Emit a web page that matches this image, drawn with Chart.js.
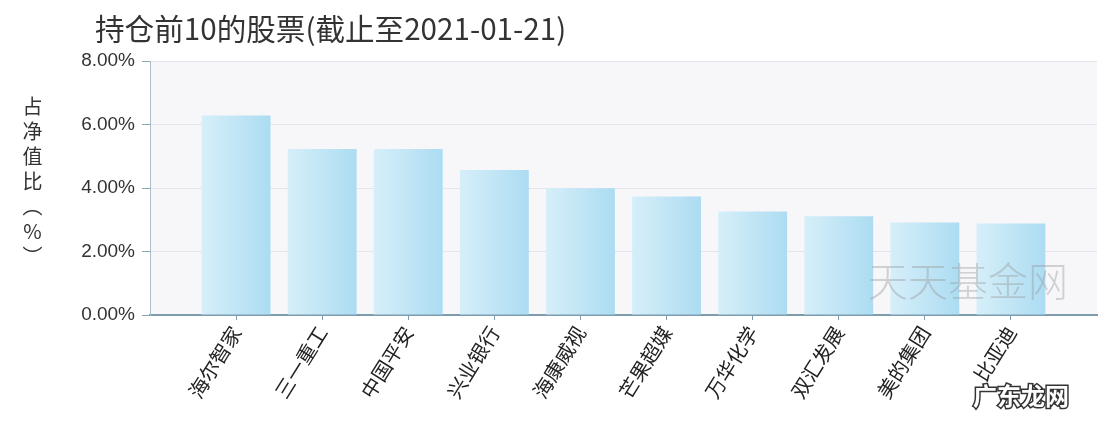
<!DOCTYPE html>
<html>
<head>
<meta charset="utf-8">
<script src="https://cdn.jsdelivr.net/npm/chart.js@4.4.1/dist/chart.umd.min.js"></script>
<style>
  body { margin: 0; background: #fff; }
  #wrap { position: relative; width: 1108px; height: 424px; }
  #title { position: absolute; left: 95px; top: 6px; margin: 0; font: 29.6px "Noto Sans CJK SC", sans-serif; color: #333; font-weight: normal; white-space: nowrap; }
  #ytitle { position: absolute; left: 18px; top: 96px; writing-mode: vertical-rl; font: 20px "Noto Sans CJK SC", sans-serif; letter-spacing: 5px; color: #333; }
  #ytitle span { text-orientation: upright; }
  canvas { position: absolute; left: 0; top: 0; }
</style>
</head>
<body>
<div id="wrap">
  <canvas id="chartContainer" width="1108" height="424"></canvas>
  <h1 id="title">持仓前10的股票(截止至2021-01-21)</h1>
  <div id="ytitle">占净值比（<span>%</span>）</div>
</div>
<script>
// top 10 holdings, % of net value
const categories = ['海尔智家', '三一重工', '中国平安', '兴业银行', '海康威视', '芒果超媒', '万华化学', '双汇发展', '美的集团', '比亚迪'];
const weights = [6.28, 5.23, 5.23, 4.57, 3.99, 3.73, 3.26, 3.11, 2.91, 2.88];
const yTicks = [0, 2, 4, 6, 8];

// gradient per bar, left light -> right a bit darker
function barGradient(ctx) {
    const chart = ctx.chart;
    const xs = chart.scales.x;
    if (!xs || ctx.type !== 'data') return '#c4e6f6';
    const cx = xs.getPixelForValue(ctx.dataIndex);
    const half = (xs.getPixelForValue(1) - xs.getPixelForValue(0)) * 0.4;
    if (!isFinite(cx) || !isFinite(half)) return '#c4e6f6';
    const g = chart.ctx.createLinearGradient(cx - half, 0, cx + half, 0);
    g.addColorStop(0, '#d6eff9');
    g.addColorStop(1, '#acdcf2');
    return g;
}

const plotBg = {
    id: 'plotBg',
    beforeDraw(chart) {
        const { ctx, chartArea: a } = chart;
        ctx.save();
        ctx.fillStyle = '#f7f7fa';
        ctx.fillRect(a.left, a.top, a.right - a.left, a.bottom - a.top);
        ctx.restore();
    },
    afterDatasetsDraw(chart) {
        const ctx = chart.ctx;
        ctx.save();
        ctx.font = '300 40px "Noto Sans CJK SC"';
        ctx.fillStyle = 'rgba(150,150,150,0.4)';
        ctx.textBaseline = 'middle';
        ctx.fillText('天天基金网', 868, 281);
        ctx.restore();
    },
    afterDraw(chart) {
        const ctx = chart.ctx;
        ctx.save();
        ctx.font = 'bold 24px "Noto Sans CJK SC"';
        ctx.textBaseline = 'middle';
        ctx.lineWidth = 3;
        ctx.strokeStyle = '#333';
        ctx.strokeText('广东龙网', 973, 396);
        ctx.fillStyle = '#fff';
        ctx.fillText('广东龙网', 973, 396);
        ctx.restore();
    }
};

const chart = new Chart(document.getElementById('chartContainer'), {
    type: 'bar',
    data: {
        datasets: [{
            data: weights.map((v, i) => ({ x: i, y: v })),
            backgroundColor: barGradient,
            borderWidth: 0,
            barPercentage: 0.8,
            categoryPercentage: 1
        }]
    },
    options: {
        responsive: false,
        animation: false,
        layout: { padding: { top: 61, right: 11, left: 0, bottom: 0 } },
        plugins: { legend: { display: false }, tooltip: { enabled: false } },
        scales: {
            x: {
                type: 'linear',
                offset: false,
                min: -1,
                max: 10,
                afterBuildTicks: (axis) => { axis.ticks = categories.map((c, i) => ({ value: i })); },
                afterFit: (s) => { s.height = 109; },
                ticks: {
                    autoSkip: false,
                    maxRotation: 58,
                    minRotation: 58,
                    padding: 2,
                    color: '#222',
                    font: { family: '"Noto Sans CJK SC"', size: 20 },
                    callback: (v) => categories[v] ?? ''
                },
                grid: { offset: false, drawOnChartArea: false, tickLength: 5, tickColor: '#7f9cab' },
                border: { color: '#7d9dad', width: 2 }
            },
            y: {
                min: 0,
                max: 8,
                afterBuildTicks: (axis) => { axis.ticks = yTicks.map(v => ({ value: v })); },
                afterFit: (s) => { s.width = 150; },
                ticks: {
                    padding: 7,
                    color: '#333',
                    font: { family: '"Liberation Sans", Arial', size: 19 },
                    callback: (v) => v.toFixed(2) + '%'
                },
                grid: { color: '#e4e4ec', tickLength: 8, tickColor: '#8ca8b6' },
                border: { color: '#a8c0cc', width: 1 }
            }
        }
    },
    plugins: [plotBg]
});
</script>
</body>
</html>
